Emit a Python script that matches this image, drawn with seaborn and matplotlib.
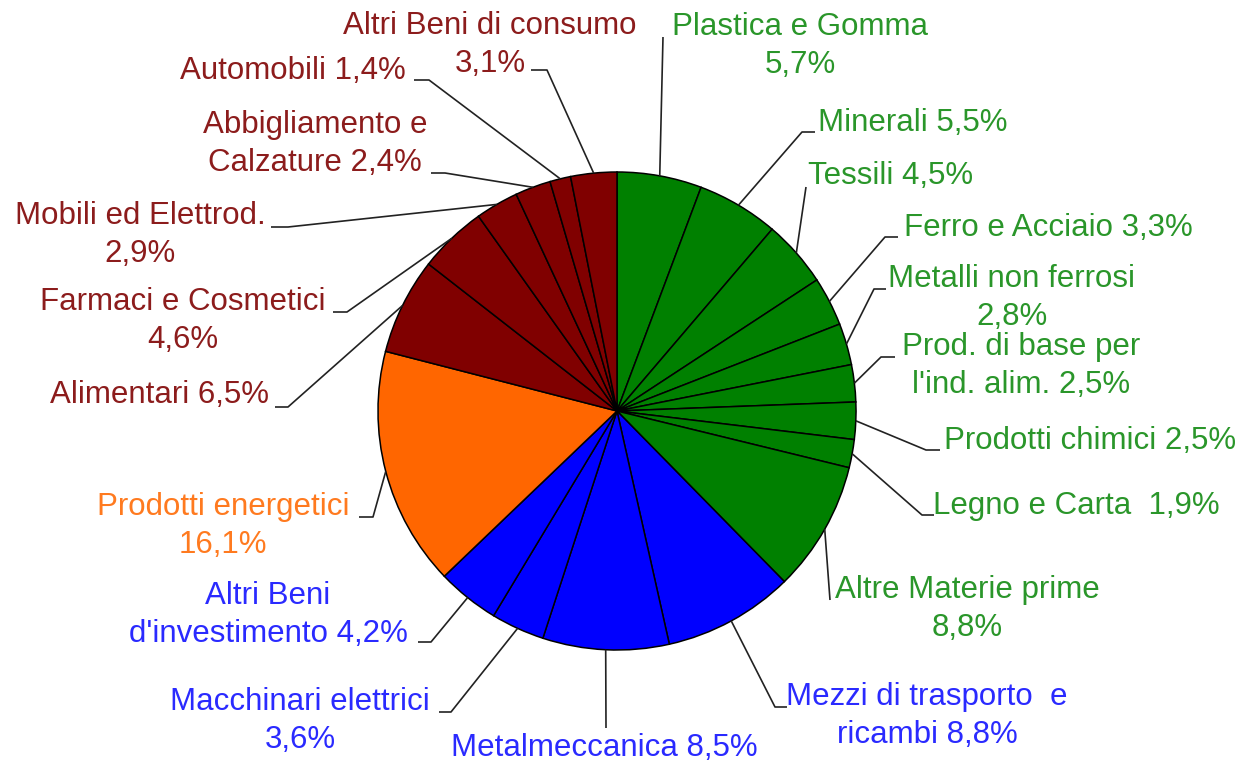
import matplotlib
matplotlib.use('Agg')
import matplotlib.pyplot as plt
import seaborn as sns
import numpy as np

# export shares by sector (%), clockwise from 12 o'clock
labels = [
    "Plastica e Gomma\n{}", "Minerali {}", "Tessili {}", "Ferro e Acciaio {}",
    "Metalli non ferrosi\n{}", "Prod. di base per\nl'ind. alim. {}",
    "Prodotti chimici {}", "Legno e Carta  {}", "Altre Materie prime\n{}",
    "Mezzi di trasporto  e\nricambi {}", "Metalmeccanica {}",
    "Macchinari elettrici\n{}", "Altri Beni\nd'investimento {}",
    "Prodotti energetici\n{}", "Alimentari {}", "Farmaci e Cosmetici\n{}",
    "Mobili ed Elettrod.\n{}", "Abbigliamento e\nCalzature {}",
    "Automobili {}", "Altri Beni di consumo\n{}",
]
shares = [5.7, 5.5, 4.5, 3.3, 2.8, 2.5, 2.5, 1.9, 8.8,
          8.8, 8.5, 3.6, 4.2,
          16.1,
          6.5, 4.6, 2.9, 2.4, 1.4, 3.1]
groups = ["materie"] * 9 + ["investimento"] * 4 + ["energia"] + ["consumo"] * 6

wedge_colors = {"materie": "#008000", "investimento": "#0000ff",
                "energia": "#ff6600", "consumo": "#800000"}
text_colors = {"materie": "#2a962a", "investimento": "#2a2aff",
               "energia": "#ff7a1f", "consumo": "#8c1c1c"}

# label layout in pixels (y down): text centre, leader elbow, tick dx
text_pos = [(800, 46), (913, 123), (891, 176), (1048, 228), (1012, 298),
            (1021, 366), (1090, 441), (1076, 506), (967, 609), (927, 716),
            (604, 748), (300, 721), (268, 615), (223, 526), (160, 395),
            (183, 321), (140, 235), (315, 144), (293, 71), (490, 45)]
elbows = [(663, 37), (802, 132), (806, 187), (885, 237), (874, 289),
          (881, 357), (926, 450), (922, 515), (830, 600), (775, 707),
          (606, 728), (451, 712), (431, 642), (373, 517), (288, 407),
          (347, 312), (288, 227), (445, 173), (429, 80), (547, 70)]
ticks = [0, 13, 0, 13, 12, 14, 14, 12, 0, 12,
         0, -12, -13, -14, -13, -14, -17, -14, -15, -16]

sns.set_theme(style="white")
plt.rcParams['font.family'] = ['Liberation Sans', 'DejaVu Sans']

fig = plt.figure(figsize=(12.54, 7.63), dpi=100)
ax = fig.add_axes([0, 0, 1, 1])

cx, cy, r = 617, 411, 239
wedges, _ = ax.pie(shares, colors=[wedge_colors[g] for g in groups],
                   startangle=270, counterclock=True, center=(cx, cy), radius=r,
                   wedgeprops=dict(edgecolor='black', linewidth=1.1))
ax.set_xlim(0, 1254)
ax.set_ylim(763, 0)
ax.set_aspect('auto')
ax.axis('off')

for w, lab, val, g, tp, el, dx in zip(wedges, labels, shares, groups,
                                      text_pos, elbows, ticks):
    th = np.deg2rad((w.theta1 + w.theta2) / 2)
    sx, sy = cx + r * np.cos(th), cy + r * np.sin(th)
    xs, ys = [sx, el[0]], [sy, el[1]]
    if dx:
        xs.append(el[0] + dx)
        ys.append(el[1])
    ax.plot(xs, ys, color='#222222', lw=1.2, solid_capstyle='butt')
    txt = lab.format(f"{val:.1f}%".replace('.', ','))
    ax.text(tp[0], tp[1], txt, ha='center', va='center', multialignment='center',
            fontsize=22.5, color=text_colors[g], linespacing=1.33)

fig.savefig('out.png', dpi=100, facecolor='white')
